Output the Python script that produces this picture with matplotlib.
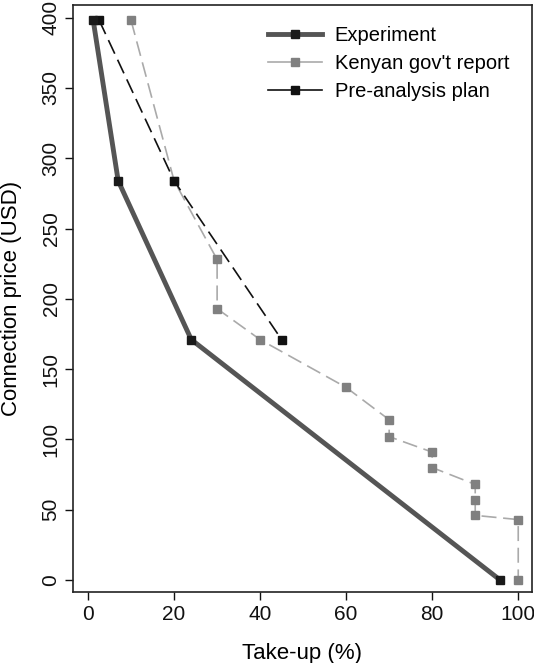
import matplotlib
matplotlib.use("Agg")
import matplotlib.pyplot as plt
from matplotlib.lines import Line2D

plt.rcParams['font.family'] = ['Liberation Sans', 'DejaVu Sans']

# take-up (%) and connection price (USD)
exp_x = [1.2, 7.0, 24.0, 95.8]
exp_y = [398, 284, 171, 0]

gov_x = [10, 20, 30, 30, 40, 60, 70, 70, 80, 80, 90, 90, 90, 100, 100]
gov_y = [398, 284, 228, 193, 171, 137, 114, 102, 91, 80, 68, 57, 46, 43, 0]

pap_x = [2.6, 20, 45]
pap_y = [398, 284, 171]

labels = ['Experiment', "Kenyan gov't report", 'Pre-analysis plan']

fig = plt.figure(figsize=(5.34, 6.63), dpi=100)
ax = fig.add_axes([73 / 534, 71 / 663, 459 / 534, 587 / 663])

ax.plot(gov_x, gov_y, color='#aaaaaa', lw=1.2, dashes=(9, 4),
        marker='s', ms=6, mfc='#808080', mec='#808080', zorder=2)
ax.plot(pap_x, pap_y, color='#111111', lw=1.2, dashes=(9, 4),
        marker='s', ms=6, mfc='#111111', mec='#111111', zorder=3)
ax.plot(exp_x, exp_y, color='#555555', lw=3.5, solid_capstyle='butt',
        marker='s', ms=6, mfc='#1a1a1a', mec='#1a1a1a', zorder=4)

handles = [
    Line2D([], [], color='#555555', lw=3.5, marker='s', ms=6, mfc='#1a1a1a', mec='#1a1a1a'),
    Line2D([], [], color='#aaaaaa', lw=1.2, marker='s', ms=6, mfc='#808080', mec='#808080'),
    Line2D([], [], color='#111111', lw=1.2, marker='s', ms=6, mfc='#111111', mec='#111111'),
]
ax.legend(handles, labels, loc='upper right', bbox_to_anchor=(0.99, 0.995),
          frameon=False, fontsize=14.5, handlelength=2.65, handletextpad=0.65,
          labelspacing=0.45)

ax.set_xlim(-3.5, 103.2)
ax.set_ylim(-8.5, 409)
ax.set_xticks([0, 20, 40, 60, 80, 100])
ax.set_yticks(range(0, 401, 50))
ax.tick_params(axis='both', direction='out', length=6, width=1, labelsize=15,
               colors='#111111', pad=3)
for lab in ax.get_yticklabels():
    lab.set_rotation(90)
    lab.set_va('center')
for s in ax.spines.values():
    s.set_linewidth(1.2)
    s.set_color('#222222')

ax.set_xlabel('Take-up (%)', fontsize=16, va='center')
ax.set_ylabel('Connection price (USD)', fontsize=16, va='center')
ax.xaxis.set_label_coords((302 - 73) / 459, (592 - 653) / 587)
ax.yaxis.set_label_coords((12 - 73) / 459, 0.5)

fig.savefig('out.png', dpi=100)
